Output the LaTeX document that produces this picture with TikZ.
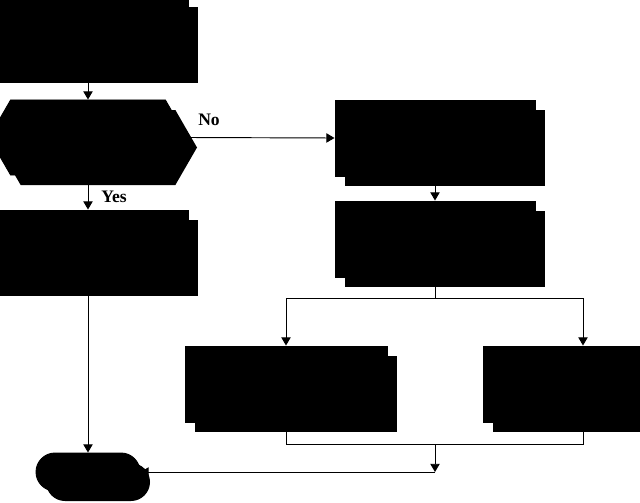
\documentclass[tikz,border=0pt]{standalone}
\usepackage{fontspec}
\setmainfont{Liberation Serif}
\usetikzlibrary{arrows.meta,shapes.symbols,shapes.misc,shadows}

\tikzset{
  darkshape/.style={fill=black,draw=black,inner sep=0pt,
    drop shadow={shadow xshift=0.3cm,shadow yshift=-0.3cm,opacity=1,fill=black}},
  procbox/.style={darkshape,rectangle,minimum width=6cm,minimum height=2.28cm},
  decision/.style={darkshape,signal,signal to=east and west,signal pointer angle=120,
    minimum width=5.94cm,minimum height=2.25cm},
  terminal/.style={darkshape,rounded rectangle,minimum width=3.12cm,minimum height=1.14cm},
  flowlabel/.style={font=\fontsize{15}{18}\selectfont\bfseries,inner sep=0pt}
}

\begin{document}
\begin{tikzpicture}[x=0.03cm,y=-0.03cm,>={Triangle[length=7pt,width=8pt]},line width=0.8pt]
  \useasboundingbox (0,0) rectangle (640,503);

  % boxes
  \foreach \nm/\x/\y in {start/88/35, yesbox/88/248, probC/435/138, probD/435/239, caseF/583/384}
  {
    \node[procbox] (\nm) at (\x,\y) {};
  }
  \node[procbox,minimum width=6.06cm] (caseE) at (286,384) {};
  \node[decision] (decide) at (88,137.5) {};
  \node[terminal] (finish) at (88,472) {};

  \coordinate (split) at (435,298);
  \coordinate (merge) at (435,444);
  \coordinate (bend) at (435,472);

  % connectors
  \draw[->] (start.south) -- (decide.north);
  \draw[->] (decide.east) -- (probC.west);
  \node[flowlabel] (nolab) at (209,120) {No};
  \draw[->] (decide.south) -- (yesbox.north);
  \node[flowlabel] (yeslab) at (114,197) {Yes};
  \draw[->] (probC.south) -- (probD.north);
  \draw (probD.south) -- (split);
  \draw[->] (split) -| (caseE.north);
  \draw[->] (split) -| (caseF.north);
  \draw (caseE.south) |- (merge);
  \draw (caseF.south) |- (merge);
  \draw[->] (merge) -- (bend);
  \draw[->] (bend) -- (finish.east);
  \draw[->] (yesbox.south) -- (finish.north);
\end{tikzpicture}
\end{document}
